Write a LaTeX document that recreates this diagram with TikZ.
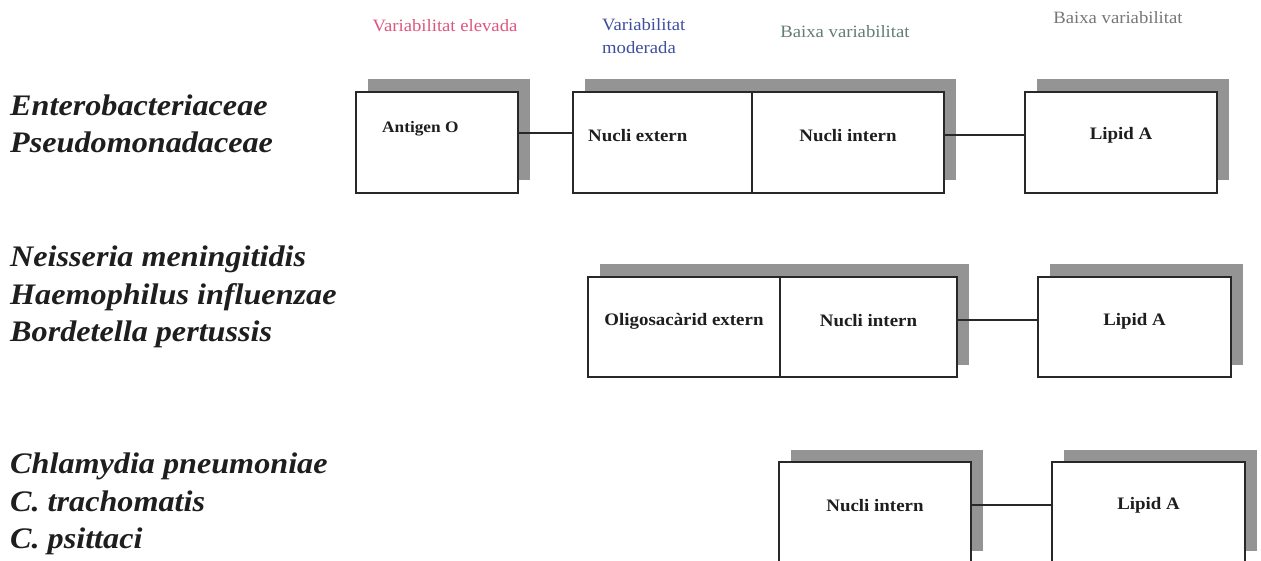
\documentclass[tikz,border=0pt]{standalone}
\usepackage{fontspec}
\setmainfont{Liberation Serif}[FakeStretch=1.08]
\usetikzlibrary{shadows}

\definecolor{boxline}{RGB}{40,40,40}
\definecolor{textdark}{RGB}{30,30,30}
\definecolor{shadowgray}{RGB}{148,148,148}
\definecolor{highpink}{RGB}{222,86,128}
\definecolor{modblue}{RGB}{62,78,160}
\definecolor{lowgreen}{RGB}{100,124,114}
\definecolor{lowgray}{RGB}{118,118,118}

\begin{document}
\begin{tikzpicture}[x=1pt,y=-1pt,
  cell/.style={draw=boxline, line width=1.3pt, fill=white, inner sep=0pt,
    outer sep=0pt, anchor=north west, minimum height=101pt,
    drop shadow={shadow xshift=12pt, shadow yshift=12.5pt,
      fill=shadowgray, opacity=1}},
  celltext/.style={font=\bfseries\fontsize{17.5}{20}\selectfont, text=textdark, inner sep=0pt},
  species/.style={font=\bfseries\itshape\fontsize{29.8}{37.5}\selectfont,
    align=left, anchor=west, text=textdark, inner sep=0pt},
  header/.style={font=\fontsize{17.3}{23}\selectfont, inner sep=0pt},
  link/.style={draw=boxline, line width=1.8pt}
]
\useasboundingbox (0,0) rectangle (1261,561);

% column headings
\node[header, text=highpink] (hHigh) at (445,26) {Variabilitat elevada};
\node[header, text=modblue, align=left, anchor=west] (hMod) at (602,36.5) {Variabilitat\\moderada};
\node[header, text=lowgreen] (hLow1) at (845,32) {Baixa variabilitat};
\node[header, text=lowgray] (hLow2) at (1118,18) {Baixa variabilitat};

% organism groups
\node[species] (sp1) at (10,124) {Enterobacteriaceae\\Pseudomonadaceae};
\node[species] (sp2) at (10,297) {Neisseria meningitidis\\Haemophilus influenzae\\Bordetella pertussis};
\node[species] (sp3) at (10,504) {Chlamydia pneumoniae\\C. trachomatis\\C. psittaci};

% row 1: O antigen -- core -- lipid A
\node[cell, minimum width=162pt] (r1ag) at (356,92) {};
\node[cell, minimum width=179pt] (r1ext) at (573,92) {};
\node[cell, minimum width=192pt] (r1int) at (752,92) {};
\node[cell, minimum width=192pt] (r1lip) at (1025,92) {};
\node[celltext, font=\bfseries\fontsize{16}{18}\selectfont, anchor=west] (t1ag) at ([xshift=26pt,yshift=14pt]r1ag.west) {Antigen O};
\node[celltext, anchor=west] (t1ext) at ([xshift=15pt,yshift=7pt]r1ext.west) {Nucli extern};
\node[celltext] (t1int) at ([yshift=7pt]r1int.center) {Nucli intern};
\node[celltext] (t1lip) at ([yshift=7pt]r1lip.center) {Lipid A};
\draw[link] ([yshift=9.5pt]r1ag.east) -- ([yshift=9.5pt]r1ext.west);
\draw[link] ([yshift=7.5pt]r1int.east) -- ([yshift=7.5pt]r1lip.west);

% row 2: outer oligosaccharide -- inner core -- lipid A
\node[cell, minimum width=192pt, minimum height=100pt] (r2oli) at (588,277) {};
\node[cell, minimum width=177pt, minimum height=100pt] (r2int) at (780,277) {};
\node[cell, minimum width=193pt, minimum height=100pt] (r2lip) at (1038,277) {};
\node[celltext] (t2oli) at ([yshift=6pt]r2oli.center) {Oligosacàrid extern};
\node[celltext] (t2int) at ([yshift=6pt]r2int.center) {Nucli intern};
\node[celltext] (t2lip) at ([yshift=6pt]r2lip.center) {Lipid A};
\draw[link] ([yshift=7pt]r2int.east) -- ([yshift=7pt]r2lip.west);

% row 3: inner core -- lipid A
\node[cell, minimum width=192pt] (r3int) at (779,462) {};
\node[cell, minimum width=193pt] (r3lip) at (1052,462) {};
\node[celltext] (t3int) at ([yshift=7pt]r3int.center) {Nucli intern};
\node[celltext] (t3lip) at ([yshift=7pt]r3lip.center) {Lipid A};
\draw[link] ([yshift=7.5pt]r3int.east) -- ([yshift=7.5pt]r3lip.west);
\end{tikzpicture}
\end{document}
